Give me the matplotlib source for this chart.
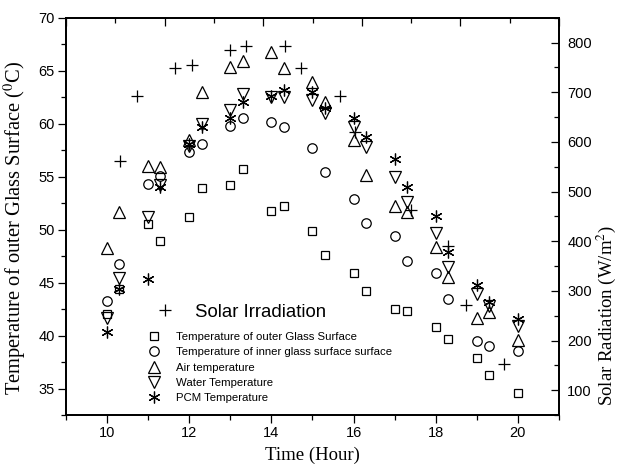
import numpy as np
import matplotlib
matplotlib.use("Agg")
import matplotlib.pyplot as plt
from matplotlib.ticker import MultipleLocator, NullFormatter

plt.rcParams['font.family'] = ['Liberation Sans', 'DejaVu Sans']
plt.rcParams['mathtext.fontset'] = 'stix'

# ---- data ----
hours = [10, 10.3, 11, 11.3, 12, 12.3, 13, 13.3, 14, 14.3, 15, 15.3,
         16, 16.3, 17, 17.3, 18, 18.3, 19, 19.3, 20]
outer_glass = [42.0, 44.35, 50.5, 48.9, 51.15, 53.95, 54.17, 55.74, 51.75, 52.2, 49.86, 47.63,
               45.92, 44.19, 42.52, 42.28, 40.82, 39.66, 37.87, 36.23, 34.53]
inner_glass = [43.28, 46.71, 54.27, 55.05, 57.35, 58.05, 59.77, 60.56, 60.18, 59.71, 57.73, 55.46,
               52.85, 50.64, 49.39, 47.03, 45.86, 43.44, 39.5, 39.0, 38.53]
air_temp = [48.22, 51.68, 56.0, 55.9, 58.45, 62.95, 65.37, 65.94, 66.73, 65.22, 63.9, 62.0,
            58.45, 55.15, 52.22, 51.68, 48.38, 45.54, 41.62, 42.24, 39.57]
water_temp = [41.7, 45.39, 51.2, 54.2, 57.9, 59.95, 61.28, 62.8, 62.54, 62.54, 62.23, 60.97,
              59.71, 57.82, 54.99, 52.62, 49.7, 46.49, 43.9, 42.78, 40.89]
pcm_temp = [40.35, 44.35, 45.3, 53.98, 58.1, 59.65, 60.5, 62.07, 62.6, 63.17, 62.95, 61.44,
            60.5, 58.71, 56.69, 54.04, 51.27, 47.85, 44.76, 43.18, 41.52]

solar_hours = [10.32, 10.74, 11.66, 12.07, 12.99, 13.39, 14.34, 14.72, 15.66, 16.03,
               17.40, 18.31, 18.73, 19.66]
solar_rad = [561, 692, 749, 754, 784, 793, 793, 749, 692, 620, 463, 390, 272, 152]

labels = ['Temperature of outer Glass Surface',
          'Temperature of inner glass surface surface',
          'Air temperature',
          'Water Temperature',
          'PCM Temperature']

fig = plt.figure(figsize=(6.22, 4.73), dpi=100)
ax = fig.add_axes([66 / 622, 1 - 415 / 473, (559 - 66) / 622, (415 - 17.7) / 473])

mk = dict(linestyle='none', color='black', markerfacecolor='none', markeredgewidth=0.9)
series = [(outer_glass, 's', 6.0), (inner_glass, 'o', 6.8), (air_temp, '^', 8.0),
          (water_temp, 'v', 8.0), (pcm_temp, (6, 2, 0), 8.5)]
handles = []
for (vals, m, ms), lab in zip(series, labels):
    h, = ax.plot(hours, vals, marker=m, markersize=ms, label=lab, **mk)
    handles.append(h)

ax.set_xlim(9, 21)
ax.set_ylim(32.5, 70)
ax.xaxis.set_major_locator(MultipleLocator(2))
ax.xaxis.set_minor_locator(MultipleLocator(1))
ax.yaxis.set_major_locator(MultipleLocator(5))
ax.yaxis.set_minor_locator(MultipleLocator(2.5))
ax.tick_params(which='both', direction='out', width=0.9, labelsize=10.5, top=False, right=False)
ax.tick_params(which='major', length=5.5, pad=2.5)
ax.tick_params(which='minor', length=3.5)
for s in ax.spines.values():
    s.set_linewidth(1.1)

ax.set_xlabel('Time (Hour)', family='Liberation Serif', fontsize=13.5, labelpad=5)
ax.set_ylabel('Temperature of outer Glass Surface ($^{0}$C)', family='Liberation Serif',
              fontsize=14.8)
ax.yaxis.set_label_coords(-0.077, 0.47)

# right axis: solar radiation
ax2 = ax.twinx()
ps, = ax2.plot(solar_hours, solar_rad, marker='+', markersize=8.5, label='Solar Irradiation', **mk)
ax2.set_ylim(50, 850)
ax2.yaxis.set_major_locator(MultipleLocator(100))
ax2.yaxis.set_minor_locator(MultipleLocator(50))
ax2.tick_params(which='both', direction='in', width=0.9, labelsize=10.5)
ax2.tick_params(which='major', length=5.5, pad=6)
ax2.tick_params(which='minor', length=3.5)
ax2.set_ylabel('Solar Radiation (W/m$^{2}$)', family='Liberation Serif', fontsize=13.5)
ax2.yaxis.set_label_coords(1.073, 0.25)

# top axis: unlabeled ticks only
ax3 = ax.twiny()
ax3.set_xlim(0, 10)
ax3.xaxis.set_major_locator(MultipleLocator(2))
ax3.xaxis.set_minor_locator(MultipleLocator(1))
ax3.xaxis.set_major_formatter(NullFormatter())
ax3.tick_params(which='both', direction='in', width=0.9)
ax3.tick_params(which='major', length=5.5)
ax3.tick_params(which='minor', length=3.5)
for a in (ax2, ax3):
    for s in a.spines.values():
        s.set_linewidth(1.1)

leg1 = ax3.legend([ps], ['Solar Irradiation'], loc='center left',
                  bbox_to_anchor=(156 / 622, 1 - 312 / 473), bbox_transform=fig.transFigure,
                  frameon=False, borderpad=0, borderaxespad=0, handlelength=1.0, handletextpad=1.1,
                  prop={'size': 13.4})
ax3.add_artist(leg1)
ax3.legend(handles, labels, loc='center left',
           bbox_to_anchor=(148 / 622, 1 - 367.5 / 473), bbox_transform=fig.transFigure,
           frameon=False, borderpad=0, borderaxespad=0, handlelength=1.0, handletextpad=1.5,
           labelspacing=0.45, prop={'size': 8.2})

fig.savefig('out.png', dpi=100)
